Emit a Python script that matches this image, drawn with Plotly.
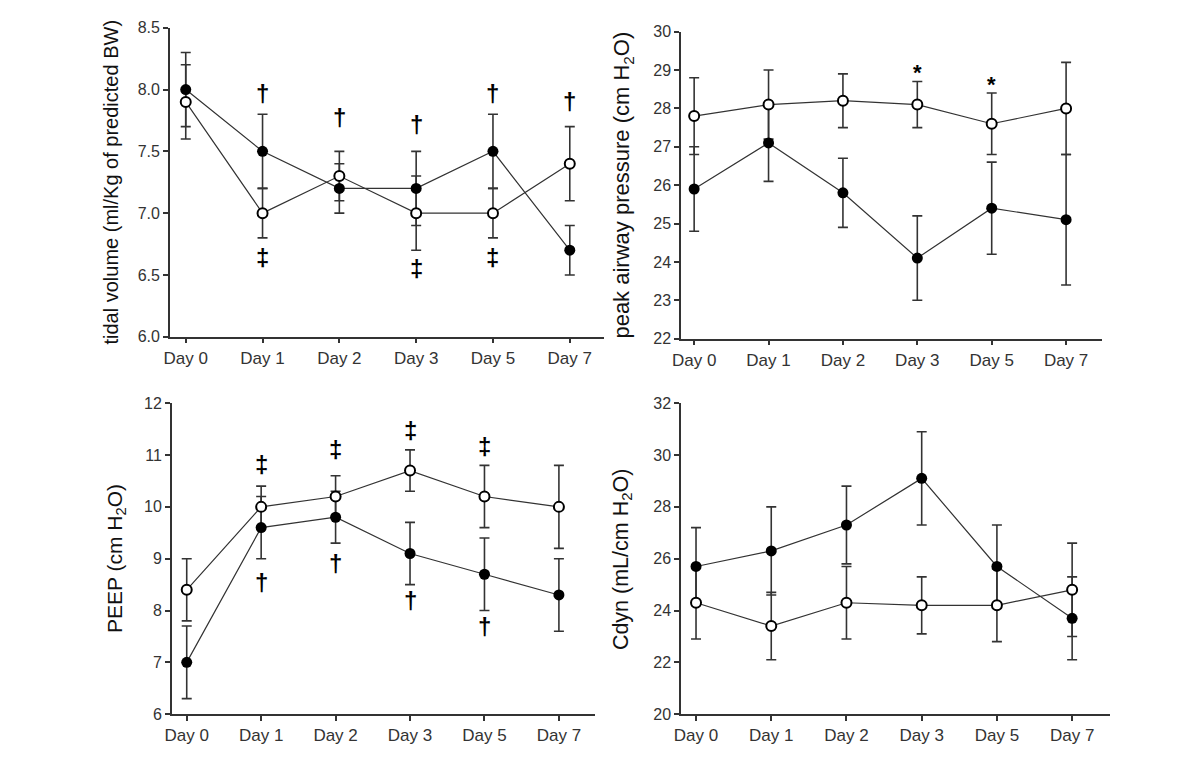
import plotly.graph_objects as go

# ---------------- data ----------------
days = ["Day 0", "Day 1", "Day 2", "Day 3", "Day 5", "Day 7"]
x_idx = [0, 1, 2, 3, 4, 5]

tv_filled = [8.0, 7.5, 7.2, 7.2, 7.5, 6.7]
tv_filled_err = [0.3, 0.3, 0.2, 0.3, 0.3, 0.2]
tv_open = [7.9, 7.0, 7.3, 7.0, 7.0, 7.4]
tv_open_err = [0.3, 0.2, 0.2, 0.3, 0.2, 0.3]

paw_filled = [25.9, 27.1, 25.8, 24.1, 25.4, 25.1]
paw_filled_err = [1.1, 1.0, 0.9, 1.1, 1.2, 1.7]
paw_open = [27.8, 28.1, 28.2, 28.1, 27.6, 28.0]
paw_open_err = [1.0, 0.9, 0.7, 0.6, 0.8, 1.2]

peep_filled = [7.0, 9.6, 9.8, 9.1, 8.7, 8.3]
peep_filled_err = [0.7, 0.6, 0.5, 0.6, 0.7, 0.7]
peep_open = [8.4, 10.0, 10.2, 10.7, 10.2, 10.0]
peep_open_err = [0.6, 0.4, 0.4, 0.4, 0.6, 0.8]

cdyn_filled = [25.7, 26.3, 27.3, 29.1, 25.7, 23.7]
cdyn_filled_err = [1.5, 1.7, 1.5, 1.8, 1.6, 1.6]
cdyn_open = [24.3, 23.4, 24.3, 24.2, 24.2, 24.8]
cdyn_open_err = [1.4, 1.3, 1.4, 1.1, 1.4, 1.8]

# significance marks: (day index, y value, symbol)
tv_marks = [(1, 7.97, "†"), (2, 7.77, "†"), (3, 7.72, "†"), (4, 7.97, "†"), (5, 7.90, "†"),
            (1, 6.64, "‡"), (3, 6.55, "‡"), (4, 6.64, "‡")]
paw_marks = [(3, 29.13, "*"), (4, 28.80, "*")]
peep_marks = [(1, 10.82, "‡"), (2, 11.10, "‡"), (3, 11.48, "‡"), (4, 11.16, "‡"),
              (1, 8.55, "†"), (2, 8.90, "†"), (3, 8.20, "†"), (4, 7.70, "†")]
cdyn_marks = []

y_titles = ["tidal volume (ml/Kg of predicted BW)",
            "peak airway pressure (cm H<sub>2</sub>O)",
            "PEEP (cm H<sub>2</sub>O)",
            "Cdyn (mL/cm H<sub>2</sub>O)"]

# ---------------- layout geometry ----------------
W, H = 1200, 767
OFF = 8  # page body margin shifts the figure by 8 px
FONT = "Liberation Sans, Arial, sans-serif"
AX = "#333333"

def fx(px):
    return (px - OFF) / W

def fy(py):
    return 1 - (py - OFF) / H

panels = [
    dict(data=(tv_filled, tv_filled_err, tv_open, tv_open_err), marks=tv_marks,
         px=(162, 599), py=(20, 336), xr=[-0.207, 5.44], yr=[6.0, 8.5],
         tickvals=[6.0, 6.5, 7.0, 7.5, 8.0, 8.5], fmt=".1f",
         title_x=103, title_size=20),
    dict(data=(paw_filled, paw_filled_err, paw_open, paw_open_err), marks=paw_marks,
         px=(677, 1101), py=(24, 338), xr=[-0.177, 5.48], yr=[22, 30],
         tickvals=[22, 23, 24, 25, 26, 27, 28, 29, 30], fmt="d",
         title_x=619, title_size=22),
    dict(data=(peep_filled, peep_filled_err, peep_open, peep_open_err), marks=peep_marks,
         px=(164, 590), py=(404, 722), xr=[-0.2, 5.48], yr=[6, 12],
         tickvals=[6, 7, 8, 9, 10, 11, 12], fmt="d",
         title_x=107, title_size=21),
    dict(data=(cdyn_filled, cdyn_filled_err, cdyn_open, cdyn_open_err), marks=cdyn_marks,
         px=(677, 1109), py=(404, 722), xr=[-0.2, 5.5], yr=[20, 32],
         tickvals=[20, 22, 24, 26, 28, 30, 32], fmt="d",
         title_x=618, title_size=21.5),
]

fig = go.Figure()
annotations = []
layout = dict(width=W, height=H, margin=dict(l=0, r=0, t=0, b=0),
              paper_bgcolor="white", plot_bgcolor="white", showlegend=False,
              font=dict(family=FONT, color=AX))

for i, p in enumerate(panels):
    n = "" if i == 0 else str(i + 1)
    xa, ya = "x" + n, "y" + n
    f, fe, o, oe = p["data"]

    # error bars first (below all markers)
    for vals, errs in ((o, oe), (f, fe)):
        fig.add_trace(go.Scatter(
            x=x_idx, y=vals, mode="markers", xaxis=xa, yaxis=ya,
            marker=dict(size=1, color="rgba(0,0,0,0)"),
            error_y=dict(type="data", array=errs, visible=True,
                         color=AX, thickness=1.6, width=5),
            hoverinfo="skip"))
    # open circles
    fig.add_trace(go.Scatter(
        x=x_idx, y=o, mode="lines+markers", xaxis=xa, yaxis=ya,
        line=dict(color=AX, width=1.2),
        marker=dict(symbol="circle", size=10, color="white",
                    line=dict(color="black", width=2))))
    # filled circles
    fig.add_trace(go.Scatter(
        x=x_idx, y=f, mode="lines+markers", xaxis=xa, yaxis=ya,
        line=dict(color=AX, width=1.2),
        marker=dict(symbol="circle", size=11, color="black",
                    line=dict(color="black", width=0))))

    x0, x1 = p["px"]
    y0, y1 = p["py"]
    common = dict(showline=True, linecolor=AX, linewidth=1.5, ticks="outside",
                  ticklen=5, tickwidth=1.5, tickcolor=AX, showgrid=False,
                  zeroline=False)
    layout["xaxis" + n] = dict(common, domain=[fx(x0), fx(x1)], range=p["xr"],
                               tickmode="array", tickvals=x_idx, ticktext=days,
                               tickfont=dict(family=FONT, size=17, color=AX),
                               anchor=ya)
    layout["yaxis" + n] = dict(common, domain=[fy(y1), fy(y0)], range=p["yr"],
                               tickmode="array", tickvals=p["tickvals"],
                               tickfont=dict(family=FONT, size=16, color=AX),
                               tickformat=p["fmt"], anchor=xa)

    annotations.append(dict(
        xref="paper", yref="paper", x=fx(p["title_x"]), y=fy((y0 + y1) / 2),
        text=y_titles[i], textangle=-90, showarrow=False,
        xanchor="center", yanchor="middle",
        font=dict(family=FONT, size=p["title_size"], color="#111111")))

    for (d, yv, s) in p["marks"]:
        annotations.append(dict(
            xref=xa, yref=ya, x=d, y=yv, text="<b>%s</b>" % s, showarrow=False,
            xanchor="center", yanchor="middle",
            yshift=-7 if s == "*" else 0,
            font=dict(family=FONT, size=24 if s != "*" else 22, color="black")))

layout["annotations"] = annotations
fig.update_layout(**layout)
fig.write_html("out.html")
